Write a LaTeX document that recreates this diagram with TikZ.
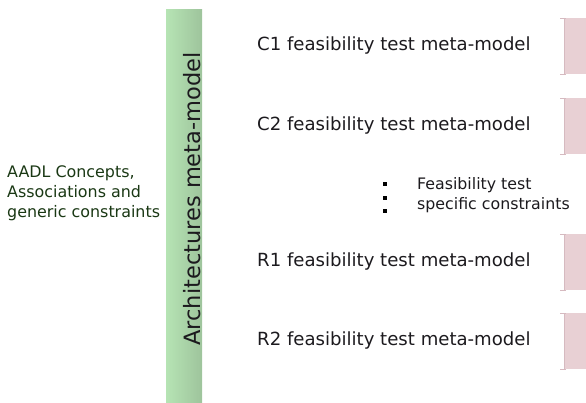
\documentclass[tikz,border=0pt]{standalone}
\usepackage{fontspec}
\setmainfont{DejaVu Sans}
\definecolor{barL}{RGB}{182,228,180}
\definecolor{barR}{RGB}{158,196,156}
\definecolor{pinkbox}{RGB}{232,208,212}
\definecolor{pinkedge}{RGB}{214,186,192}
\definecolor{labtext}{RGB}{28,26,30}
\definecolor{aadltext}{RGB}{26,56,20}
\begin{document}
\begin{tikzpicture}[x=1pt,y=-1pt,
  mmlabel/.style={anchor=west,inner sep=0pt,text=labtext,font=\fontsize{18.1}{20}\selectfont},
  pinkrect/.style={fill=pinkbox,draw=none},
  dotmark/.style={fill=black,draw=none,minimum size=4.5pt,inner sep=0pt,rectangle}]
\useasboundingbox (0,0) rectangle (586,403);
% green bar
\shade[left color=barL,right color=barR] (166,10) rectangle (202,403);
\node[rotate=90,inner sep=0pt,text=labtext,font=\fontsize{22.5}{26}\selectfont] (arch) at (192,199) {Architectures meta-model};
% left text
\node[anchor=west,align=left,inner sep=0pt,text=aadltext,font=\fontsize{15.9}{20}\selectfont] (aadl) at (7,193) {AADL Concepts,\\Associations and\\generic constraints};
% meta-model labels
\node[mmlabel] (c1) at (257,46) {C1 feasibility test meta-model};
\node[mmlabel] (c2) at (257,126) {C2 feasibility test meta-model};
\node[mmlabel] (r1) at (257,262) {R1 feasibility test meta-model};
\node[mmlabel] (r2) at (257,341) {R2 feasibility test meta-model};
% dots
\node[dotmark] (d1) at (385,184) {};
\node[dotmark] (d2) at (385,198) {};
\node[dotmark] (d3) at (385,211) {};
\node[anchor=west,align=left,inner sep=0pt,text=labtext,font=\fontsize{15.8}{20}\selectfont] (spec) at (417,195) {Feasibility test\\specific constraints};
% pink boxes
\foreach \t/\b/\n in {18/74/p1,98/154/p2,234/290/p3,313/369/p4}{
  \fill[pinkbox] (564,\t) rectangle (586,\b);
  \draw[pinkedge,line width=0.8pt] (560,\t) -- (566,\t);
  \draw[pinkedge,line width=0.8pt] (560,\b) -- (566,\b);
  \draw[pinkedge,line width=0.6pt] (564,\t) -- (564,\b);
}
\end{tikzpicture}
\end{document}
